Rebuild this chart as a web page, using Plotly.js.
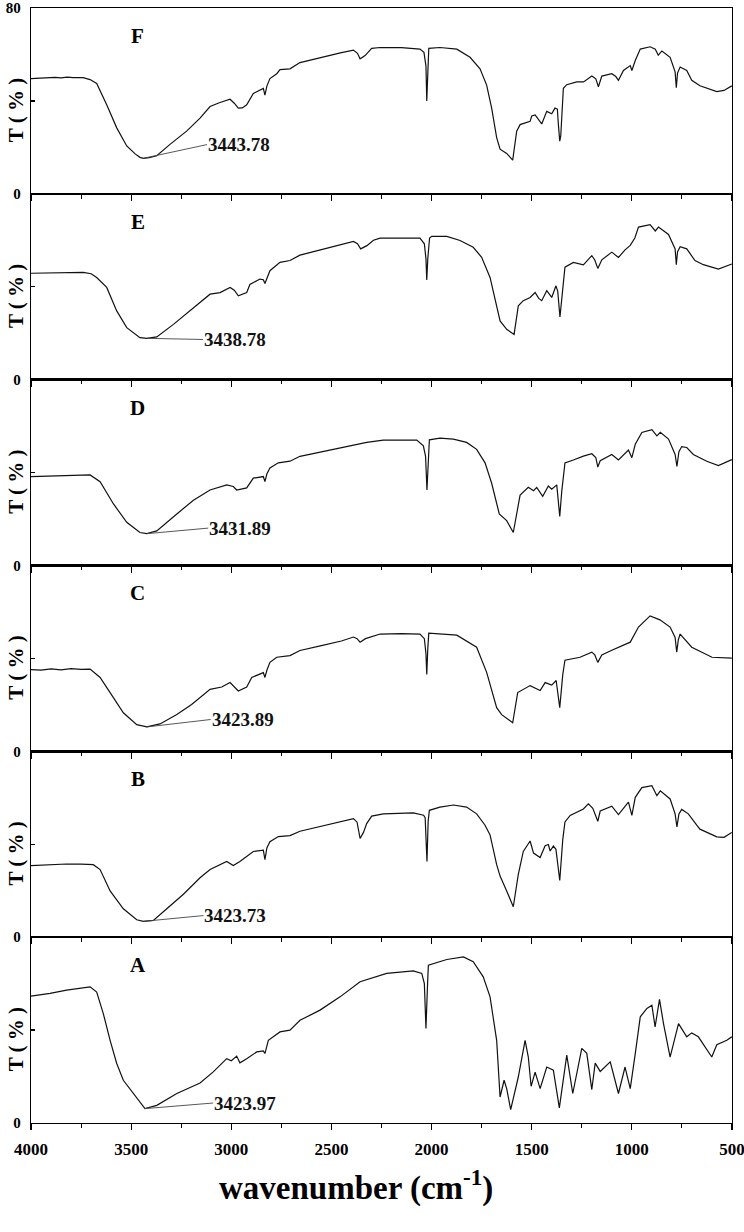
<!DOCTYPE html>
<html><head><meta charset="utf-8">
<script src="https://cdn.plot.ly/plotly-3.0.1.min.js"></script>
<style>html,body{margin:0;padding:0;background:#fff}</style>
</head><body><div id="chart" style="width:744px;height:1232px"></div>
<script>
// ---------- DATA ----------
const panelLetters = ['F','E','D','C','B','A'];
const peakLabels = ['3443.78','3438.78','3431.89','3423.89','3423.73','3423.97'];
const peakWn = [3439, 3422, 3422, 3422, 3439, 3431];
const peakT  = [15.3, 17.8, 13.7, 10.5, 6.8, 6.2];
const xTickVals = [4000,3500,3000,2500,2000,1500,1000,500];
const xTickText = ['4000','3500','3000','2500','2000','1500','1000','500'];
const xMinorVals = [3750,3250,2750,2250,1750,1250,750];
const yMinorVals = [40];

const wnF = [4000,3960,3920,3880,3850,3820,3790,3760,3740,3705,3672,3622,3572,3522,3480,3456,3439,3410,3372,3306,3223,3156,3106,3060,3023,3006,2985,2965,2945,2923,2890,2860,2840,2832,2822,2807,2773,2757,2707,2657,2550,2450,2390,2370,2357,2332,2299,2257,2150,2058,2038,2028,2024,2019,2014,1958,1874,1808,1758,1725,1700,1675,1658,1625,1595,1575,1558,1508,1500,1483,1470,1450,1425,1400,1384,1372,1367,1360,1355,1348,1342,1325,1275,1241,1200,1180,1167,1150,1100,1080,1067,1042,1008,1000,983,958,909,883,868,850,809,784,778,772,759,726,701,660,576,540,501];
const tF  = [49.6,49.8,49.7,50.1,49.9,50.2,50.0,50.1,50.0,49.2,47.5,38.3,28.4,20.6,17.2,15.7,15.3,15.6,16.4,21.3,27.0,32.6,37.6,39.2,40.4,40.7,39.0,36.9,37.0,38.3,43.2,44.5,45.4,42.5,46.5,49.6,51.7,53.5,53.8,56.5,58.8,60.8,61.9,60.5,58.1,59.5,62.6,63.0,62.9,62.3,60.9,55.0,40.0,55.0,62.6,63.0,62.3,58.8,53.8,46.8,36.9,24.2,19.2,17.4,14.5,27.0,29.8,31.2,33.5,34.0,32.5,30.1,35.5,34.5,36.9,36.5,30.0,22.7,25.0,40.0,45.4,47.0,48.2,48.2,50.7,49.5,46.1,50.7,51.7,50.5,48.9,53.1,55.2,53.1,57.4,62.3,63.3,62.3,59.7,61.5,58.8,52.5,45.7,52.0,54.6,53.1,48.9,46.5,44.0,44.5,46.5];

const wnE = [4000,3950,3900,3850,3800,3739,3700,3672,3622,3572,3522,3456,3422,3372,3289,3206,3106,3056,3006,2985,2965,2923,2907,2857,2840,2832,2822,2807,2757,2707,2657,2550,2450,2390,2370,2354,2323,2290,2257,2150,2058,2036,2028,2024,2019,2010,1999,1924,1858,1792,1750,1708,1683,1658,1625,1588,1567,1542,1508,1483,1465,1450,1425,1400,1379,1370,1359,1350,1347,1342,1334,1292,1242,1200,1185,1170,1150,1100,1067,1034,1008,985,967,909,883,867,817,784,778,772,759,726,685,643,568,501];
const tE  = [45.8,45.9,46.0,46.1,46.1,46.2,45.6,44.0,39.7,29.6,22.4,18.1,17.8,18.4,23.8,29.6,36.8,37.5,39.7,38.5,36.1,37.5,41.0,43.3,43.0,41.4,44.0,46.9,50.5,51.3,53.6,56.0,58.3,59.5,58.5,56.3,57.7,60.0,60.9,61.0,60.9,58.5,52.0,42.9,52.0,61.0,61.7,61.7,59.9,57.0,52.7,44.0,34.0,25.3,21.7,19.5,31.8,34.0,35.4,37.5,35.0,34.0,38.3,35.4,40.4,38.0,27.0,36.0,37.5,43.3,48.4,50.5,49.4,53.4,51.5,47.9,51.6,54.9,52.6,55.9,57.8,61.0,65.7,66.7,64.0,65.7,62.5,56.3,49.5,55.0,57.2,56.3,51.3,49.5,47.6,49.8];

const wnD = [4000,3900,3800,3705,3655,3589,3522,3456,3422,3372,3272,3189,3106,3023,2990,2973,2923,2890,2840,2832,2822,2807,2765,2707,2657,2490,2324,2241,2074,2041,2030,2023,2017,2011,1958,1891,1825,1775,1733,1700,1662,1625,1592,1558,1517,1491,1475,1445,1417,1400,1375,1360,1350,1334,1292,1242,1200,1180,1170,1158,1100,1067,1017,1000,983,950,900,875,858,817,784,775,765,751,726,693,626,568,501];
const tD  = [38.3,38.6,38.9,39.0,36.1,26.6,18.6,14.2,13.7,14.9,22.2,28.1,32.5,34.7,34.0,32.5,33.4,37.6,38.3,36.1,39.5,42.0,44.2,44.9,47.0,50.0,53.0,54.0,54.0,51.5,47.0,32.5,48.0,54.1,54.8,54.4,53.0,50.0,44.2,35.4,22.2,19.3,14.2,30.3,33.7,32.2,33.6,29.8,34.2,32.8,34.7,21.1,32.0,44.2,45.4,47.1,48.1,46.5,42.4,45.1,47.8,45.4,49.7,46.4,52.2,57.3,58.5,55.8,57.3,54.4,47.8,42.7,49.0,51.2,50.8,47.8,44.9,43.0,45.6];

const wnC = [4000,3950,3900,3850,3800,3750,3705,3655,3605,3539,3472,3422,3356,3272,3198,3106,3048,3006,2965,2923,2898,2840,2832,2822,2807,2773,2707,2657,2550,2450,2390,2372,2357,2330,2257,2150,2058,2036,2028,2024,2019,2014,1874,1775,1725,1675,1650,1595,1570,1508,1458,1433,1400,1378,1360,1345,1334,1259,1200,1185,1170,1150,1100,1008,967,909,860,809,784,776,768,759,701,600,501];
const tC  = [35.2,35.0,35.5,35.1,35.6,35.3,35.4,31.8,25.3,16.6,11.5,10.5,11.8,15.9,20.2,26.7,27.7,29.6,26.0,27.7,31.8,33.9,31.8,35.0,38.3,40.5,41.2,43.4,45.5,47.5,49.2,48.5,47.0,48.5,50.5,50.7,50.5,48.5,42.0,33.1,44.0,50.9,50.0,44.8,34.0,18.8,15.8,12.3,25.3,28.3,26.2,29.6,28.5,30.5,18.8,33.0,39.2,40.5,42.7,41.5,38.3,41.5,43.5,47.0,53.5,58.3,56.6,53.5,49.0,42.7,48.0,50.5,44.8,40.5,40.1];

const wnB = [4000,3900,3822,3750,3689,3655,3605,3539,3472,3439,3389,3322,3239,3156,3106,3023,2990,2957,2890,2840,2832,2822,2807,2765,2707,2657,2550,2450,2390,2372,2357,2340,2324,2299,2241,2091,2040,2032,2023,2017,2011,1958,1891,1825,1775,1733,1708,1675,1658,1625,1592,1567,1542,1508,1491,1458,1433,1417,1408,1392,1379,1360,1345,1334,1308,1242,1217,1195,1170,1158,1100,1067,1017,1000,983,950,900,875,858,809,784,775,765,751,718,676,660,576,540,501];
const tB  = [30.8,31.2,31.5,31.4,31.2,29.1,19.9,12.2,7.5,6.8,7.2,12.2,18.5,25.6,29.1,32.6,30.8,32.6,36.9,37.5,33.4,38.5,41.1,43.3,43.7,45.6,47.7,49.8,51.0,49.5,42.5,45.1,48.9,52.1,53.1,53.5,52.5,51.4,32.6,50.0,54.6,56.0,56.9,56.0,53.1,48.2,44.0,31.2,26.3,19.9,13.1,27.0,36.9,41.4,36.2,34.3,39.4,39.9,37.1,39.2,37.8,24.4,42.0,49.6,52.4,55.2,57.4,55.5,49.9,54.3,56.4,52.8,58.1,52.4,60.2,64.4,65.2,60.9,63.0,59.5,53.1,47.5,53.0,55.0,53.1,48.2,46.5,43.2,43.0,45.1];

const wnA = [4000,3905,3822,3739,3705,3672,3639,3605,3572,3539,3489,3431,3372,3272,3156,3090,3023,3000,2973,2957,2923,2873,2840,2832,2815,2790,2757,2707,2657,2557,2457,2357,2224,2091,2049,2036,2028,2020,2016,1924,1841,1792,1742,1708,1675,1658,1638,1625,1605,1567,1533,1517,1503,1483,1458,1425,1392,1362,1325,1295,1250,1225,1200,1183,1158,1108,1083,1067,1034,1008,983,958,925,900,884,862,842,809,767,726,701,668,601,576,526,501];
const tA  = [54.6,55.8,57.2,58.3,58.6,56.4,47.1,35.6,25.6,18.4,12.7,6.2,7.6,12.7,17.2,22.0,27.7,26.8,28.8,25.9,27.7,30.6,31.0,29.9,35.6,37.0,39.2,40.0,44.2,48.6,54.3,60.8,64.4,65.5,64.4,60.0,40.7,60.0,67.9,70.4,71.5,69.4,62.9,54.3,35.6,11.2,18.4,14.8,5.8,19.8,35.6,28.4,15.8,21.9,14.8,24.1,22.7,6.5,29.2,12.7,32.1,30.0,14.4,25.8,22.2,26.3,18.4,12.7,24.1,14.8,29.9,45.7,49.3,50.7,41.4,53.2,42.8,28.4,42.8,37.1,38.8,37.1,28.4,33.7,35.6,37.1];

// ---------- BUILD ----------
const series = [[wnF,tF],[wnE,tE],[wnD,tD],[wnC,tC],[wnB,tB],[wnA,tA]];
const labelPos = [[3121,21.2],[3141,17.3],[3115,16.1],[3103,13.7],[3139,9.3],[3091,8.6]];
const FONT = 'Liberation Serif, Times New Roman, serif';
const N = 6;
const data = [];
const layout = {
  width:744, height:1232,
  margin:{l:31, r:12, t:8, b:109},
  paper_bgcolor:'#ffffff', plot_bgcolor:'rgba(0,0,0,0)',
  showlegend:false, annotations:[]
};
for (let i = 0; i < N; i++) {
  const k = i + 1;
  const sx = k === 1 ? '' : String(k);
  const xr = 'x' + sx, yr = 'y' + sx;
  const dom = [1 - (i + 1) / N, 1 - i / N];
  data.push({x: series[i][0], y: series[i][1], xaxis: xr, yaxis: yr, type:'scatter', mode:'lines',
             line:{color:'#111', width:1.2}, hoverinfo:'skip'});
  layout['xaxis' + sx] = {
    domain:[0,1], anchor: yr, range:[4000,500], showline:true, mirror:true,
    linecolor:'#000', linewidth:1.3, ticks:'outside', ticklen:6, tickwidth:1.2, tickcolor:'#000',
    tickmode:'array', tickvals:xTickVals, ticktext:xTickText, showticklabels: i === N - 1,
    ticklabeloverflow:'allow',
    minor:{tickmode:'array', tickvals:xMinorVals, ticks:'outside', ticklen:3.5, tickwidth:1, tickcolor:'#000', showgrid:false},
    ticklabelstandoff: 4,
    tickfont:{family:FONT, size:17, color:'#000', weight:'bold'},
    showgrid:false, zeroline:false, fixedrange:true
  };
  if (k > 1) layout['xaxis' + sx].matches = 'x';
  layout['yaxis' + sx] = {
    domain: dom, anchor: xr, range:[0,80], showline:true, mirror:true,
    linecolor:'#000', linewidth:1.3, ticks:'inside', ticklen:4, tickwidth:1.2, tickcolor:'#000',
    tickmode:'array', tickvals: i === 0 ? [0,80] : [0], ticktext: i === 0 ? ['0','80'] : ['0'],
    minor:{tickmode:'array', tickvals:yMinorVals, ticks:'inside', ticklen:4, tickwidth:1.2, tickcolor:'#000', showgrid:false},
    ticklabelstandoff: 6, ticklabeloverflow:'allow',
    tickfont:{family:FONT, size:15, color:'#000', weight:'bold'},
    showgrid:false, zeroline:false, fixedrange:true
  };
  layout.annotations.push({xref:xr, yref:yr, x:3466, y:68, text:panelLetters[i], showarrow:false,
    font:{family:FONT, size:21, color:'#000', weight:'bold'}});
  layout.annotations.push({xref:xr, yref:yr, x:peakWn[i], y:peakT[i], axref:xr, ayref:yr,
    ax:labelPos[i][0], ay:labelPos[i][1], text:peakLabels[i], showarrow:true, arrowhead:0,
    arrowwidth:0.9, arrowcolor:'#444', xanchor:'left', yanchor:'middle', borderpad:0,
    font:{family:FONT, size:19, color:'#111', weight:'bold'}});
  layout.annotations.push({xref:'paper', yref:'paper', x:-0.0214, y:dom[0] + 0.45 / N,
    text:'T ( % )', textangle:-90, showarrow:false, xanchor:'center', yanchor:'middle',
    font:{family:FONT, size:21, color:'#000', weight:'bold'}});
}
layout.annotations.push({xref:'paper', yref:'paper', x:0.464, y:-0.056, xanchor:'center', yanchor:'middle',
  text:'wavenumber (cm<sup>-1</sup>)', showarrow:false,
  font:{family:FONT, size:33, color:'#000', weight:'bold'}});

Plotly.newPlot('chart', data, layout, {staticPlot:true, displayModeBar:false});
</script></body></html>
